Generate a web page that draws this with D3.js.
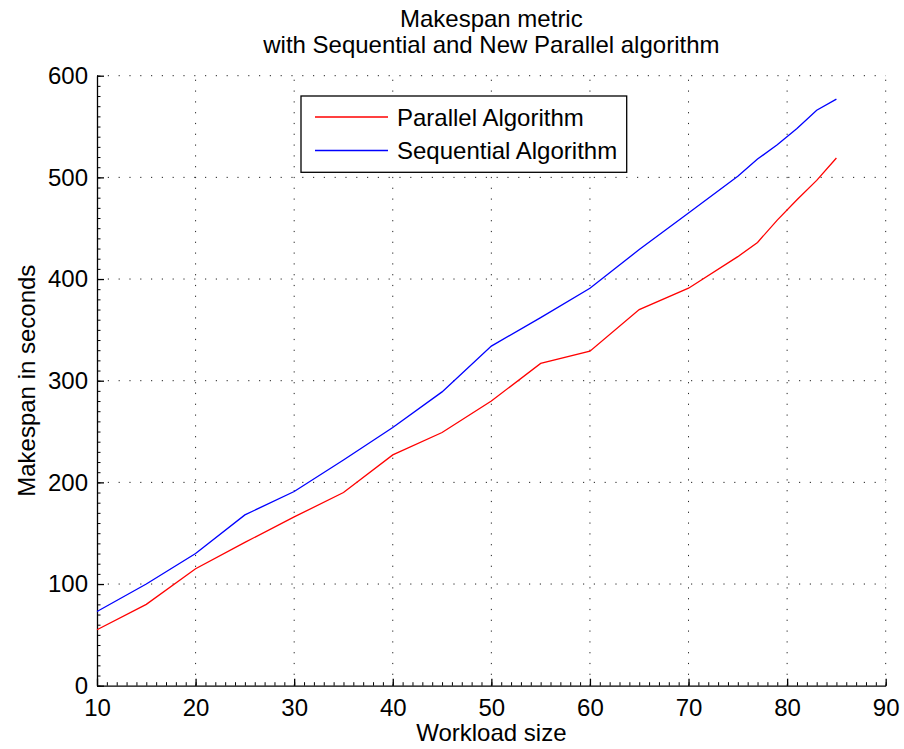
<!DOCTYPE html>
<html>
<head>
<meta charset="utf-8">
<script src="https://cdn.jsdelivr.net/npm/d3@7"></script>
<style>
  html, body { margin: 0; padding: 0; background: #fff; }
  svg { display: block; }
  text { font-family: "Liberation Sans", Arial, Helvetica, sans-serif; fill: #000; }
</style>
</head>
<body>
<svg id="chart" width="904" height="749"></svg>
<script>
const workload = [10, 15, 20, 25, 30, 35, 40, 45, 50, 55, 60, 65, 70, 75, 77, 79, 81, 83, 85];
const parallel = [55, 80, 115, 141, 166, 190, 227, 249, 280, 317, 329, 370, 391, 422, 436, 458, 478, 497, 519];
const sequential = [73, 100, 130, 168, 191, 222, 254, 289, 334, 362, 391, 429, 465, 501, 518, 532, 548, 566, 577];
const xTicks = [10, 20, 30, 40, 50, 60, 70, 80, 90];
const yTicks = [0, 100, 200, 300, 400, 500, 600];
const seriesNames = ["Parallel Algorithm", "Sequential Algorithm"];
const seriesColors = ["#ff0000", "#0000ff"];
const titleLines = ["Makespan metric", "with Sequential and New Parallel algorithm"];
const xLabel = "Workload size";
const yLabel = "Makespan in seconds";

const svg = d3.select("#chart");
const L = 97, R = 885.7, T = 75.7, B = 685.7;
const FS = "24px";
const x = d3.scaleLinear().domain([10, 90]).range([L, R]);
const y = d3.scaleLinear().domain([0, 600]).range([B, T]);

// grid
const grid = svg.append("g").attr("stroke", "#222").attr("stroke-width", 1)
  .attr("stroke-dasharray", "1.2,9.6");
xTicks.slice(1).forEach(t => {
  grid.append("line").attr("x1", x(t)).attr("x2", x(t)).attr("y1", B).attr("y2", T);
});
yTicks.slice(1).forEach(t => {
  grid.append("line").attr("x1", L).attr("x2", R).attr("y1", y(t)).attr("y2", y(t));
});

// axes
const xAxis = d3.axisBottom(x).tickValues(xTicks).tickSize(-7).tickPadding(13).tickSizeOuter(0);
const yAxis = d3.axisLeft(y).tickValues(yTicks).tickSize(-7).tickPadding(9).tickSizeOuter(0);

const minorX = d3.range(10, 90.5, 1);
const minorY = d3.range(0, 600.5, 10);
const gxm = svg.append("g").attr("transform", `translate(0,${B})`)
  .call(d3.axisBottom(x).tickValues(minorX).tickSize(-3.5).tickFormat(""));
gxm.select(".domain").remove();
gxm.selectAll("line").attr("stroke", "#000").attr("stroke-width", 1);
const gym = svg.append("g").attr("transform", `translate(${L},0)`)
  .call(d3.axisLeft(y).tickValues(minorY).tickSize(-3.5).tickFormat(""));
gym.select(".domain").remove();
gym.selectAll("line").attr("stroke", "#000").attr("stroke-width", 1);

const gx = svg.append("g").attr("transform", `translate(0,${B})`).call(xAxis);
const gy = svg.append("g").attr("transform", `translate(${L},0)`).call(yAxis);
[gx, gy].forEach(g => {
  g.select(".domain").attr("stroke", "#000").attr("stroke-width", 1.3);
  g.selectAll(".tick line").attr("stroke", "#000").attr("stroke-width", 1.3);
  g.selectAll(".tick text").style("font-size", FS).style("font-family", "'Liberation Sans', Arial, sans-serif").attr("fill", "#000");
});

// lines
const line = d3.line().x((d, i) => x(workload[i])).y(d => y(d));
[parallel, sequential].forEach((s, k) => {
  svg.append("path").datum(s).attr("d", line).attr("fill", "none")
    .attr("stroke", seriesColors[k]).attr("stroke-width", 1.3);
});

// title
svg.append("text").attr("x", (L + R) / 2).attr("y", 27).attr("text-anchor", "middle")
  .style("font-size", FS).text(titleLines[0]);
svg.append("text").attr("x", (L + R) / 2).attr("y", 53).attr("text-anchor", "middle")
  .style("font-size", FS).text(titleLines[1]);

// axis labels
svg.append("text").attr("x", (L + R) / 2).attr("y", 741).attr("text-anchor", "middle")
  .style("font-size", FS).text(xLabel);
svg.append("text").attr("transform", `translate(35,${(T + B) / 2}) rotate(-90)`)
  .attr("text-anchor", "middle").style("font-size", FS).text(yLabel);

// legend
const lg = svg.append("g");
lg.append("rect").attr("x", 301).attr("y", 96).attr("width", 325.7).attr("height", 76.3)
  .attr("fill", "#fff").attr("stroke", "#000").attr("stroke-width", 1.3);
seriesNames.forEach((n, k) => {
  const cy = 117 + k * 33.5;
  lg.append("line").attr("x1", 315).attr("x2", 388).attr("y1", cy).attr("y2", cy)
    .attr("stroke", seriesColors[k]).attr("stroke-width", 1.3);
  lg.append("text").attr("x", 397).attr("y", cy).attr("dy", "0.36em")
    .style("font-size", FS).text(n);
});
</script>
</body>
</html>
